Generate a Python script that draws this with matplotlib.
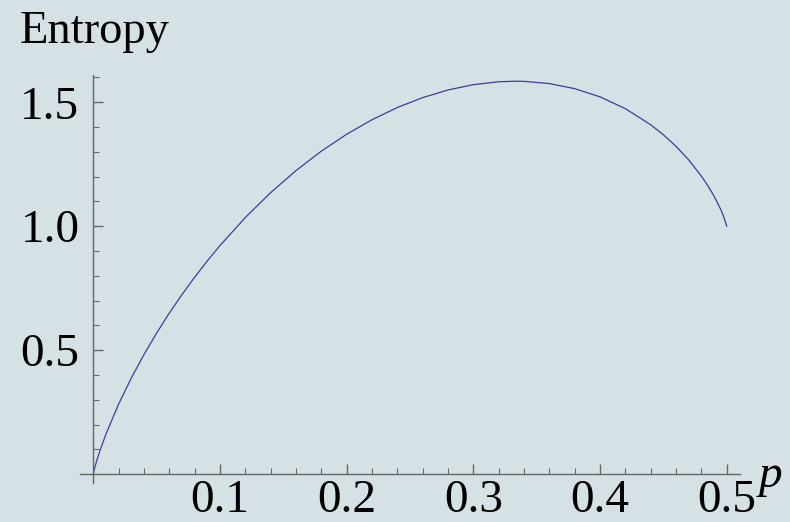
import matplotlib
matplotlib.use("Agg")
import matplotlib.pyplot as plt
from matplotlib.ticker import FixedLocator, FormatStrFormatter

# Values
p_vals = [0.0, 0.001, 0.0025, 0.005, 0.01, 0.02, 0.03, 0.04, 0.05, 0.06, 0.07,
          0.08, 0.09, 0.10, 0.12, 0.14, 0.16, 0.18, 0.20, 0.22, 0.24, 0.26,
          0.28, 0.30, 0.32, 0.3333, 0.34, 0.36, 0.38, 0.40, 0.42, 0.44, 0.45,
          0.46, 0.47, 0.48, 0.485, 0.49, 0.495, 0.4975, 0.5]
entropy_vals = [0.0, 0.0228, 0.0504, 0.0908, 0.1614, 0.2823, 0.3874, 0.4822,
                0.5690, 0.6494, 0.7242, 0.7943, 0.8601, 0.9219, 1.0350, 1.1354,
                1.2244, 1.3027, 1.3710, 1.4296, 1.4788, 1.5188, 1.5496, 1.5710,
                1.5827, 1.5850, 1.5844, 1.5754, 1.5550, 1.5219, 1.4743, 1.4094,
                1.3690, 1.3222, 1.2674, 1.2023, 1.1644, 1.1214, 1.0708, 1.0404,
                1.0]
x_major = [0.1, 0.2, 0.3, 0.4, 0.5]
y_major = [0.5, 1.0, 1.5]

bg = "#d6e1e5"
axis_col = "#666666"
line_col = "#3d3d9e"
font = "Liberation Serif"
fs = 34

fig = plt.figure(figsize=(7.9, 5.22), dpi=100, facecolor=bg)
ax = fig.add_axes([80/790, (522-483)/522, 660/790, 408/522])
ax.set_facecolor(bg)
ax.patch.set_alpha(0)

ax.plot(p_vals, entropy_vals, color=line_col, lw=0.9)

ax.set_xlim(-0.0105, 0.5105)
ax.set_ylim(-0.036, 1.61)

for s in ["top", "right"]:
    ax.spines[s].set_visible(False)
ax.spines["left"].set_position(("data", 0))
ax.spines["bottom"].set_position(("data", 0))
for s in ["left", "bottom"]:
    ax.spines[s].set_color(axis_col)
    ax.spines[s].set_linewidth(1.0)

ax.xaxis.set_major_locator(FixedLocator(x_major))
ax.yaxis.set_major_locator(FixedLocator(y_major))
ax.xaxis.set_minor_locator(FixedLocator([0.02*i for i in range(1, 26)]))
ax.yaxis.set_minor_locator(FixedLocator([0.1*i for i in range(1, 17)]))
ax.xaxis.set_major_formatter(FormatStrFormatter("%.1f"))
ax.yaxis.set_major_formatter(FormatStrFormatter("%.1f"))

ax.tick_params(which="major", direction="in", length=7, width=1, color=axis_col,
               labelsize=fs, labelcolor="black")
ax.tick_params(which="minor", direction="in", length=4, width=0.8, color=axis_col)
ax.tick_params(axis="x", which="major", pad=4)
ax.tick_params(axis="y", which="major", pad=10)
for lab in ax.get_xticklabels() + ax.get_yticklabels():
    lab.set_fontfamily(font)

fig.text(20/790, (522-43)/522, "Entropy", fontsize=33.5, family=font,
         ha="left", va="baseline")
fig.text(759/790, (522-487)/522, "p", fontsize=fs, family=font, style="italic",
         ha="left", va="baseline")

fig.savefig("out.png", dpi=100, facecolor=bg)
